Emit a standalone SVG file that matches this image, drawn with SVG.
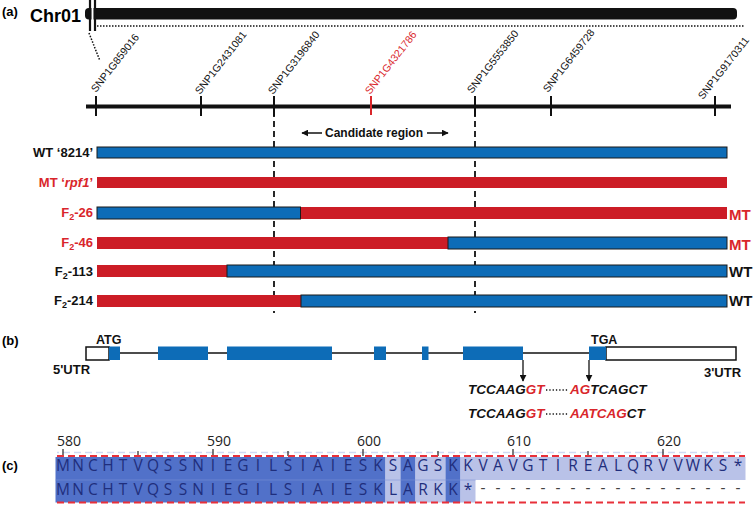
<svg xmlns="http://www.w3.org/2000/svg" width="755" height="507" viewBox="0 0 755 507">
<defs>
<style>
.lbl{font-family:"Liberation Sans",Arial,sans-serif;font-weight:bold;}
.snp{font-family:"Liberation Sans",Arial,sans-serif;font-size:10.5px;fill:#111;}
.red{fill:#d9262b;}
.blk{fill:#111;}
.bb{fill:#0d6cb7;stroke:#1a1a1a;stroke-width:1;}
.rb{fill:#cc1d26;}
.seq{font-family:"Liberation Sans",Arial,sans-serif;font-weight:bold;font-style:italic;font-size:13.5px;}
.aa{font-family:"Open Sans","DejaVu Sans",sans-serif;font-size:15.5px;fill:#1f2e7c;}
.num{font-family:"Open Sans","DejaVu Sans",sans-serif;font-size:14px;fill:#222;}
.dk{fill:#5171c9;}
.lt{fill:#b9c2e8;}
</style>
<marker id="ah" viewBox="0 0 10 10" refX="9" refY="5" markerWidth="7" markerHeight="7" orient="auto-start-reverse" markerUnits="userSpaceOnUse">
<path d="M0,0 L10,5 L0,10 z" fill="#111"/>
</marker>
</defs>
<rect width="755" height="507" fill="#fff"/>

<!-- Panel a -->
<g id="panel-a-label"><text class="lbl" x="2" y="16" font-size="13">(a)</text></g>
<g id="chromosome">
<text class="lbl" x="30" y="22" font-size="18">Chr01</text>
<rect x="85" y="8" width="652" height="11.5" rx="4" fill="#111"/>
<rect x="91.5" y="0" width="2" height="31" fill="#fff"/>
<line x1="90" y1="0" x2="90" y2="31" stroke="#111" stroke-width="2.2"/>
<line x1="95" y1="0" x2="95" y2="31" stroke="#111" stroke-width="2.2"/>
<line x1="97" y1="26" x2="745" y2="26" stroke="#111" stroke-width="1.5" stroke-dasharray="1.5 1.5"/>
<line x1="89" y1="33" x2="100" y2="61" stroke="#111" stroke-width="1.5" stroke-dasharray="1.5 1.5"/>
</g>

<g id="snp-axis">
<line x1="86" y1="106.5" x2="731" y2="106.5" stroke="#111" stroke-width="4"/>
<g stroke="#111" stroke-width="2">
<line x1="96" y1="96" x2="96" y2="116"/>
<line x1="201" y1="96" x2="201" y2="116"/>
<line x1="274" y1="96" x2="274" y2="116"/>
<line x1="475" y1="96" x2="475" y2="116"/>
<line x1="551" y1="96" x2="551" y2="116"/>
<line x1="715" y1="96" x2="715" y2="116"/>
</g>
<line x1="371" y1="96" x2="371" y2="115" stroke="#d9262b" stroke-width="2"/>
<text class="snp" transform="translate(96,93) rotate(-52)">SNP1G859016</text>
<text class="snp" transform="translate(200,95) rotate(-52)">SNP1G2431081</text>
<text class="snp" transform="translate(273,95) rotate(-52)">SNP1G3196840</text>
<text class="snp red" transform="translate(370,95) rotate(-52)">SNP1G4321786</text>
<text class="snp" transform="translate(472,94) rotate(-52)">SNP1G5553850</text>
<text class="snp" transform="translate(548,93) rotate(-52)">SNP1G6459728</text>
<text class="snp" transform="translate(703,100) rotate(-52)">SNP1G9170311</text>
</g>

<g id="connectors">
<line x1="274" y1="111" x2="274" y2="313" stroke="#111" stroke-width="1.8" stroke-dasharray="6 4"/>
<line x1="475" y1="111" x2="475" y2="313" stroke="#111" stroke-width="1.8" stroke-dasharray="6 4"/>
<line x1="322" y1="133" x2="302" y2="133" stroke="#111" stroke-width="1.5" marker-end="url(#ah)"/>
<line x1="427" y1="133" x2="448" y2="133" stroke="#111" stroke-width="1.5" marker-end="url(#ah)"/>
<line x1="523" y1="360" x2="523" y2="381" stroke="#111" stroke-width="1.3" marker-end="url(#ah)"/>
<line x1="589" y1="360" x2="589" y2="381" stroke="#111" stroke-width="1.3" marker-end="url(#ah)"/>
</g>

<g id="candidate-region"><text class="lbl" x="325" y="137" font-size="12" fill="#111">Candidate region</text></g>

<g id="row-wt">
<text class="lbl blk" x="93" y="157" font-size="13" text-anchor="end">WT ‘8214’</text>
<rect class="bb" x="97" y="147" width="630" height="11"/>
</g>
<g id="row-mt">
<text class="lbl red" x="93" y="187" font-size="13" text-anchor="end">MT ‘<tspan font-style="italic">rpf1</tspan>’</text>
<rect class="rb" x="97" y="177" width="630" height="11"/>
</g>
<g id="row-f2-26">
<text class="lbl red" x="93" y="217" font-size="13" text-anchor="end">F<tspan font-size="9" dy="3">2</tspan><tspan dy="-3">-26</tspan></text>
<rect class="rb" x="300.5" y="207" width="426.5" height="12"/>
<rect class="bb" x="97" y="207" width="203.5" height="12"/>
<text class="lbl red" x="729" y="220" font-size="15">MT</text>
</g>
<g id="row-f2-46">
<text class="lbl red" x="93" y="247" font-size="13" text-anchor="end">F<tspan font-size="9" dy="3">2</tspan><tspan dy="-3">-46</tspan></text>
<rect class="rb" x="97" y="237" width="351" height="12"/>
<rect class="bb" x="448" y="237" width="279" height="12"/>
<text class="lbl red" x="729" y="250" font-size="15">MT</text>
</g>
<g id="row-f2-113">
<text class="lbl blk" x="93" y="276" font-size="13" text-anchor="end">F<tspan font-size="9" dy="3">2</tspan><tspan dy="-3">-113</tspan></text>
<rect class="rb" x="97" y="265" width="130" height="12"/>
<rect class="bb" x="227" y="265" width="500" height="12"/>
<text class="lbl blk" x="729" y="277" font-size="15">WT</text>
</g>
<g id="row-f2-214">
<text class="lbl blk" x="93" y="305" font-size="13" text-anchor="end">F<tspan font-size="9" dy="3">2</tspan><tspan dy="-3">-214</tspan></text>
<rect class="rb" x="97" y="295" width="204" height="12"/>
<rect class="bb" x="301" y="295" width="426" height="12"/>
<text class="lbl blk" x="729" y="306" font-size="15">WT</text>
</g>

<!-- Panel b -->
<g id="panel-b-label"><text class="lbl" x="2" y="345" font-size="13">(b)</text></g>
<g id="gene-model">
<line x1="109" y1="353" x2="606" y2="353" stroke="#111" stroke-width="1.3"/>
<rect x="86" y="347" width="23" height="13" fill="#fff" stroke="#111" stroke-width="1.5"/>
<rect x="606" y="347" width="130" height="13" fill="#fff" stroke="#111" stroke-width="1.5"/>
<g fill="#0d6cb7">
<rect x="109" y="346.5" width="11" height="13.5"/>
<rect x="158" y="346.5" width="50" height="13.5"/>
<rect x="227" y="346.5" width="105" height="13.5"/>
<rect x="374" y="346.5" width="12" height="13.5"/>
<rect x="422" y="346.5" width="6.5" height="13.5"/>
<rect x="463" y="346.5" width="60" height="13.5"/>
<rect x="589" y="346.5" width="17" height="13.5"/>
</g>
<text class="lbl blk" x="96" y="344" font-size="12.5">ATG</text>
<text class="lbl blk" x="53" y="374" font-size="13">5'UTR</text>
<text class="lbl blk" x="591" y="344" font-size="12.5">TGA</text>
<text class="lbl blk" x="704" y="377" font-size="13">3'UTR</text>
</g>
<g id="splice-seqs">
<text class="seq" x="468" y="394"><tspan fill="#111">TCCAAG</tspan><tspan fill="#d9262b">GT</tspan></text>
<line x1="546" y1="390" x2="568" y2="390" stroke="#111" stroke-width="1.5" stroke-dasharray="1.3 2"/>
<text class="seq" x="570" y="394"><tspan fill="#d9262b">AG</tspan><tspan fill="#111">TCAGCT</tspan></text>
<text class="seq" x="468" y="418"><tspan fill="#111">TCCAAG</tspan><tspan fill="#d9262b">GT</tspan></text>
<line x1="546" y1="414" x2="568" y2="414" stroke="#111" stroke-width="1.5" stroke-dasharray="1.3 2"/>
<text class="seq" x="570" y="418"><tspan fill="#d9262b">AATCAG</tspan><tspan fill="#111">CT</tspan></text>
</g>

<!-- Panel c -->
<g id="panel-c-label"><text class="lbl" x="2" y="470" font-size="13">(c)</text></g>
<g id="alignment">
<text class="num" x="57" y="446">580</text>
<text class="num" x="207" y="446">590</text>
<text class="num" x="357" y="446">600</text>
<text class="num" x="507" y="446">610</text>
<text class="num" x="657" y="446">620</text>
<line x1="57" y1="452.5" x2="745" y2="452.5" stroke="#cfdaf3" stroke-width="1.5" stroke-dasharray="7 4" stroke-dashoffset="5"/>
<rect class="dk" x="55.5" y="457" width="330" height="45.5"/>
<rect class="lt" x="385.5" y="457" width="15" height="45.5"/>
<rect class="dk" x="400.5" y="457" width="15" height="45.5"/>
<rect class="lt" x="415.5" y="457" width="30" height="45.5"/>
<rect class="dk" x="445.5" y="457" width="15" height="45.5"/>
<rect class="lt" x="460.5" y="457" width="285" height="23"/>
<rect class="lt" x="460.5" y="480" width="15" height="22.5"/>
<line x1="55.5" y1="480" x2="475.5" y2="480" stroke="#7f95d8" stroke-width="0.8" opacity="0.7"/>
<g stroke="#333" stroke-width="1.3">
<line x1="63" y1="449" x2="63" y2="456"/>
<line x1="213" y1="449" x2="213" y2="456"/>
<line x1="363" y1="449" x2="363" y2="456"/>
<line x1="513" y1="449" x2="513" y2="456"/>
<line x1="663" y1="449" x2="663" y2="456"/>
<line x1="138" y1="451" x2="138" y2="456"/>
<line x1="288" y1="451" x2="288" y2="456"/>
<line x1="438" y1="451" x2="438" y2="456"/>
<line x1="588" y1="451" x2="588" y2="456"/>
</g>
<line x1="57" y1="456" x2="745" y2="456" stroke="#e8303a" stroke-width="2" stroke-dasharray="7 4"/>
<line x1="57" y1="502.5" x2="745" y2="502.5" stroke="#e8303a" stroke-width="2" stroke-dasharray="7 4"/>
<text class="aa" y="471" text-anchor="middle" x="63 78 93 108 123 138 153 168 183 198 213 228 243 258 273 288 303 318 333 348 363 378 393 408 423 438 453 468 483 498 513 528 543 558 573 588 603 618 633 648 663 678 693 708 723 738">MNCHTVQSSNIEGILSIAIESKSAGSKKVAVGTIREALQRVVWKS*</text>
<text class="aa" y="495" text-anchor="middle" x="63 78 93 108 123 138 153 168 183 198 213 228 243 258 273 288 303 318 333 348 363 378 393 408 423 438 453 468">MNCHTVQSSNIEGILSIAIESKLARKK*</text>
<text class="aa" y="493" text-anchor="middle" x="483 498 513 528 543 558 573 588 603 618 633 648 663 678 693 708 723 738" style="fill:#444">------------------</text>
</g>
</svg>
